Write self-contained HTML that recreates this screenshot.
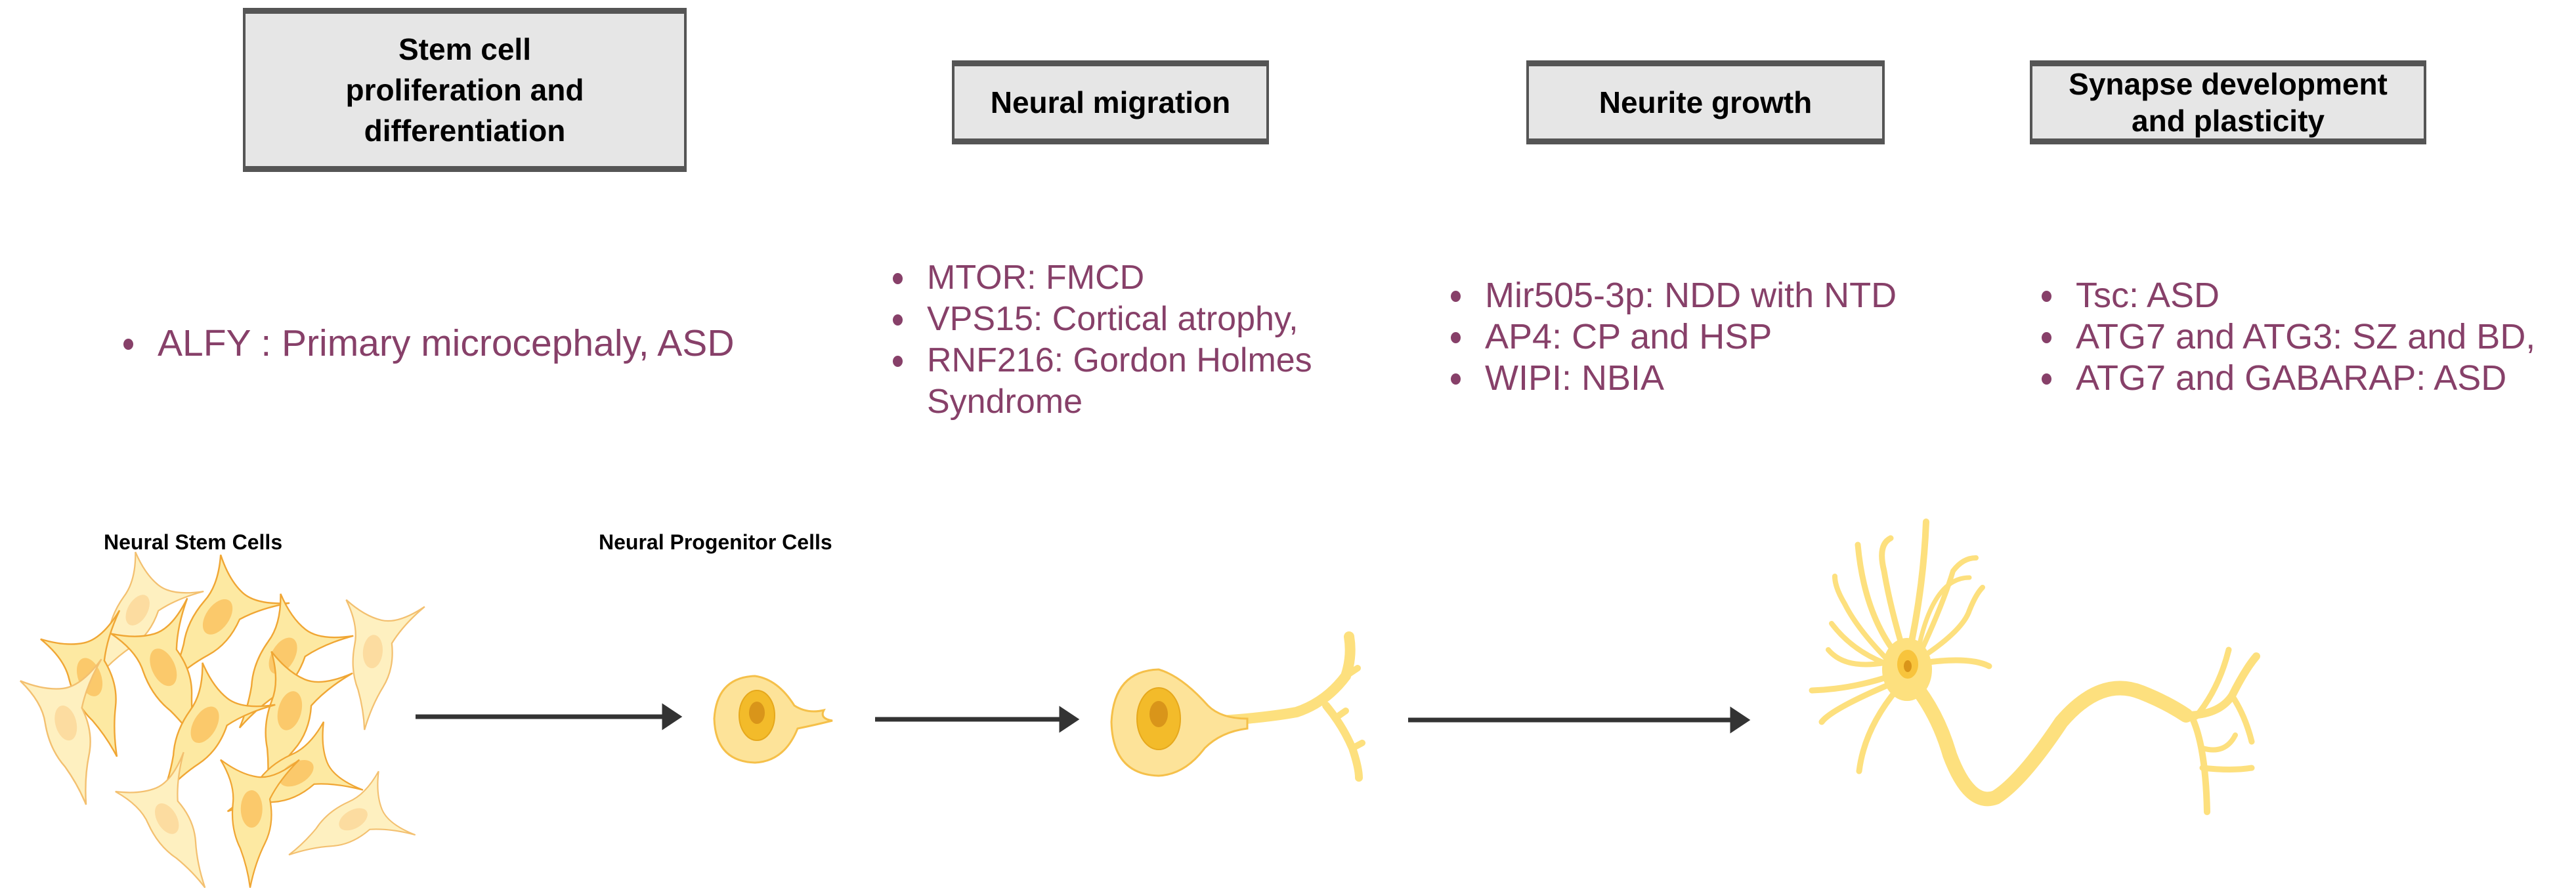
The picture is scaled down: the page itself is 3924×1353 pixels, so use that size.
<!DOCTYPE html>
<html><head><meta charset="utf-8"><style>
html,body{margin:0;padding:0;background:#fff;}
body{width:3924px;height:1353px;position:relative;overflow:hidden;font-family:"Liberation Sans",sans-serif;}
.box{position:absolute;background:#e6e6e6;border:4px solid #555;border-top-width:9px;border-bottom-width:9px;box-sizing:border-box;display:flex;align-items:center;justify-content:center;text-align:center;font-weight:bold;font-size:46px;line-height:62px;color:#000;}
.ul{position:absolute;margin:0;padding:0;list-style:none;color:#874069;font-size:54px;line-height:63px;}
.ul li{position:relative;padding-left:52px;}
.ul li:before{content:"";position:absolute;left:0;top:24px;width:15px;height:17px;border-radius:50%;background:#874069;}
.lbl{position:absolute;font-weight:bold;font-size:32px;color:#000;}
</style></head><body>
<div class="box" style="left:370px;top:12px;width:676px;height:250px;">Stem cell<br>proliferation and<br>differentiation</div>
<div class="box" style="left:1450px;top:92px;width:483px;height:128px;">Neural migration</div>
<div class="box" style="left:2325px;top:92px;width:546px;height:128px;">Neurite growth</div>
<div class="box" style="left:3092px;top:92px;width:604px;height:128px;line-height:56px;">Synapse development<br>and plasticity</div>

<ul class="ul" style="left:188px;top:492px;font-size:57px;"><li>ALFY : Primary microcephaly, ASD</li></ul>
<ul class="ul" style="left:1360px;top:392px;font-size:52px;"><li>MTOR: FMCD</li><li>VPS15: Cortical atrophy,</li><li>RNF216: Gordon Holmes<br>Syndrome</li></ul>
<ul class="ul" style="left:2210px;top:419px;"><li>Mir505-3p: NDD with NTD</li><li>AP4: CP and HSP</li><li>WIPI: NBIA</li></ul>
<ul class="ul" style="left:3110px;top:419px;"><li>Tsc: ASD</li><li>ATG7 and ATG3: SZ and BD,</li><li>ATG7 and GABARAP: ASD</li></ul>

<div class="lbl" style="left:158px;top:808px;">Neural Stem Cells</div>
<div class="lbl" style="left:912px;top:808px;">Neural Progenitor Cells</div>

<svg width="3924" height="1353" style="position:absolute;left:0;top:0" xmlns="http://www.w3.org/2000/svg">
<defs>
<g id="sc">
<path d="M-60,-110 Q-30,-60 -35,-20 Q-40,30 -20,70 Q-5,110 0,150 Q10,100 30,60 Q50,20 40,-30 Q60,-70 100,-110 Q50,-70 15,-75 Q-20,-80 -60,-110Z" fill="#fde9a2" stroke="#f0a634" stroke-width="3"/>
<ellipse cx="3" cy="-10" rx="22" ry="38" fill="#fbc96b"/>
</g>
<g id="sc2">
<path d="M-60,-110 Q-30,-60 -35,-20 Q-40,30 -20,70 Q-5,110 0,150 Q10,100 30,60 Q50,20 40,-30 Q60,-70 100,-110 Q50,-70 15,-75 Q-20,-80 -60,-110Z" fill="#fef0c0" stroke="#f3c070" stroke-width="3"/>
<ellipse cx="3" cy="-10" rx="20" ry="34" fill="#fcdca0"/>
</g>
</defs>
<use href="#sc2" transform="translate(204,935) rotate(30) scale(0.75)"/>
<use href="#sc" transform="translate(325,945) rotate(35) scale(0.8)"/>
<use href="#sc2" transform="translate(565,1000) rotate(5) scale(0.75)"/>
<use href="#sc" transform="translate(250,1025) rotate(-25) scale(0.8)"/>
<use href="#sc" transform="translate(137,1040) rotate(-20) scale(0.8)"/>
<use href="#sc2" transform="translate(100,1110) rotate(-15) scale(0.8)"/>
<use href="#sc" transform="translate(425,1005) rotate(30) scale(0.8)"/>
<use href="#sc" transform="translate(437,1090) rotate(15) scale(0.8)"/>
<use href="#sc" transform="translate(306,1110) rotate(30) scale(0.8)"/>
<use href="#sc" transform="translate(444,1180) rotate(60) scale(0.75)"/>
<use href="#sc" transform="translate(381,1240) rotate(0) scale(0.75)"/>
<use href="#sc2" transform="translate(256,1255) rotate(-30) scale(0.75)"/>
<use href="#sc2" transform="translate(531,1250) rotate(60) scale(0.7)"/>

<g stroke="#333" stroke-width="7" fill="#333">
<line x1="633" y1="1092" x2="1015" y2="1092"/><path d="M1012,1078 L1033,1092 L1012,1106Z"/>
<line x1="1333" y1="1096" x2="1620" y2="1096"/><path d="M1617,1082 L1638,1096 L1617,1110Z"/>
<line x1="2145" y1="1097" x2="2642" y2="1097"/><path d="M2639,1083 L2660,1097 L2639,1111Z"/>
</g>

<path d="M1150,1030 Q1185,1035 1210,1075 Q1230,1088 1255,1082 Q1248,1095 1268,1098 Q1240,1105 1215,1110 Q1195,1160 1150,1162 Q1090,1160 1088,1095 Q1092,1032 1150,1030Z" fill="#fde399" stroke="#f5c04a" stroke-width="3"/>
<ellipse cx="1153" cy="1090" rx="27" ry="38" fill="#f3bb2a" stroke="#e6a81c" stroke-width="2"/>
<ellipse cx="1153" cy="1086" rx="12" ry="17" fill="#d9951a"/>
<g fill="none" stroke="#fde07e" stroke-linecap="round">
<path d="M1830,1100 Q1920,1095 1975,1085 Q2020,1070 2050,1030 Q2060,1000 2055,970" stroke-width="16"/>
<path d="M2020,1075 Q2045,1105 2060,1140 Q2070,1170 2070,1185" stroke-width="12"/>
<path d="M2050,1030 L2068,1018" stroke-width="10"/>
<path d="M2040,1090 L2050,1083" stroke-width="10"/>
<path d="M2060,1140 L2075,1132" stroke-width="10"/>
</g>
<path d="M1765,1020 Q1800,1030 1840,1075 Q1860,1095 1900,1095 L1900,1110 Q1860,1115 1835,1140 Q1805,1180 1765,1182 Q1695,1180 1693,1100 Q1697,1022 1765,1020Z" fill="#fde399" stroke="#f5c04a" stroke-width="3"/>
<ellipse cx="1765" cy="1095" rx="33" ry="47" fill="#f3bb2a" stroke="#e6a81c" stroke-width="2"/>
<ellipse cx="1765" cy="1088" rx="14" ry="20" fill="#d9951a"/>

<g fill="none" stroke="#fde07e" stroke-linecap="round" stroke-linejoin="round">
<path d="M2905,1010 Q2930,900 2934,795" stroke-width="10"/>
<path d="M2905,1010 Q2880,930 2870,870 Q2860,830 2880,820" stroke-width="9"/>
<path d="M2895,1005 Q2840,940 2830,830" stroke-width="9"/>
<path d="M2880,1010 Q2830,960 2810,920 Q2795,895 2795,878" stroke-width="8"/>
<path d="M2870,1010 Q2820,990 2790,950" stroke-width="8"/>
<path d="M2870,1010 Q2810,1020 2785,990" stroke-width="8"/>
<path d="M2880,1030 Q2820,1050 2760,1052" stroke-width="9"/>
<path d="M2885,1040 Q2790,1080 2775,1100" stroke-width="9"/>
<path d="M2890,1050 Q2840,1110 2832,1175" stroke-width="9"/>
<path d="M2930,1010 Q3000,1000 3030,1015" stroke-width="9"/>
<path d="M2930,1000 Q2990,960 3000,930 Q3010,905 3020,895" stroke-width="8"/>
<path d="M2925,995 Q2960,920 2975,870 Q2990,850 3010,850" stroke-width="8"/>
<path d="M2922,990 Q2945,880 3000,880" stroke-width="7"/>
<path d="M2905,1030 Q2950,1080 2970,1150 Q3000,1230 3040,1215 Q3080,1190 3140,1100 Q3200,1030 3262,1055 Q3300,1070 3330,1090" stroke-width="22"/>
<path d="M3330,1090 Q3380,1090 3400,1060 Q3420,1020 3437,1000" stroke-width="12"/>
<path d="M3345,1092 Q3380,1050 3395,990" stroke-width="9"/>
<path d="M3340,1095 Q3360,1140 3362,1237" stroke-width="10"/>
<path d="M3355,1170 Q3400,1175 3430,1170" stroke-width="9"/>
<path d="M3355,1140 Q3390,1150 3405,1120" stroke-width="8"/>
<path d="M3400,1060 Q3420,1090 3430,1130" stroke-width="9"/>
</g>
<ellipse cx="2905" cy="1020" rx="38" ry="48" fill="#fde07e"/>
<ellipse cx="2906" cy="1012" rx="16" ry="22" fill="#f8c43c"/>
<ellipse cx="2906" cy="1015" rx="6" ry="9" fill="#d9951a"/>
</svg>
</body></html>
